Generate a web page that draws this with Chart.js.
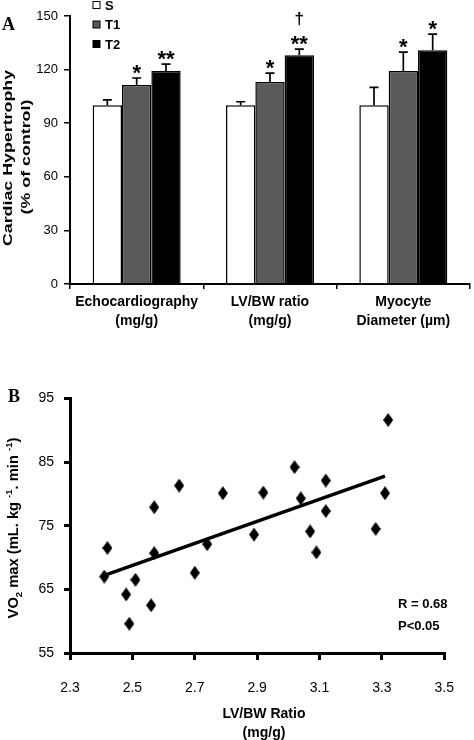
<!DOCTYPE html>
<html>
<head>
<meta charset="utf-8">
<script src="https://cdn.jsdelivr.net/npm/chart.js@4.4.0/dist/chart.umd.min.js"></script>
<style>
  body { margin: 0; background: #fff; }
  #chA { position: absolute; left: 0; top: 0; }
  #chB { position: absolute; left: 0; top: 380px; }
</style>
</head>
<body>
<canvas id="chA" width="474" height="345"></canvas>
<canvas id="chB" width="474" height="360"></canvas>
<script>
// ---- panel A : cardiac hypertrophy (% of control)
var groups = [['Echocardiography', '(mg/g)'], ['LV/BW ratio', '(mg/g)'], ['Myocyte', 'Diameter (µm)']];
var seriesNames = ['S', 'T1', 'T2'];
var sVals  = [100, 100, 100];
var t1Vals = [111.4, 113, 119.2];
var t2Vals = [119.2, 128.1, 130.9];
var sErr  = [3, 2, 10];
var t1Err = [3.9, 5, 10.6];
var t2Err = [3.9, 3.4, 9];
// significance marks, top line first
var sMarks  = [[], [], []];
var t1Marks = [['*'], ['*'], ['*']];
var t2Marks = [['**'], ['†', '**'], ['*']];
var yTicksA = [0, 30, 60, 90, 120, 150];

// ---- panel B : VO2 max vs LV/BW ratio
var lvbw = [2.41, 2.42, 2.48, 2.49, 2.51, 2.56, 2.57, 2.57, 2.65, 2.70, 2.74, 2.79, 2.89, 2.92, 3.02, 3.04, 3.07, 3.09, 3.12, 3.12, 3.28, 3.31, 3.32];
var vo2  = [67.0, 71.5, 64.2, 59.6, 66.5, 62.5, 70.7, 77.9, 81.3, 67.6, 72.1, 80.1, 73.6, 80.2, 84.2, 79.3, 74.1, 70.8, 82.1, 77.3, 74.5, 80.1, 91.6];
var fitX = [2.41, 3.31];
var fitY = [67.2, 82.8];
var xTicksB = [2.3, 2.5, 2.7, 2.9, 3.1, 3.3, 3.5];
var yTicksB = [55, 65, 75, 85, 95];
var statText = ['R = 0.68', 'P<0.05'];

Chart.defaults.font.family = 'Arial, "Liberation Sans", sans-serif';
Chart.defaults.color = '#000';

// rotated text, stretched along its length
function vText(ctx, parts, cx, cy, size, stretch) {
  ctx.save();
  ctx.translate(cx, cy);
  ctx.rotate(-Math.PI / 2);
  ctx.scale(stretch, 1);
  ctx.fillStyle = '#000';
  ctx.textBaseline = 'alphabetic';
  var total = 0;
  parts.forEach(function (p) {
    ctx.font = 'bold ' + (p[1] ? size * 0.65 : size) + 'px Arial';
    p.w = ctx.measureText(p[0]).width;
    total += p.w;
  });
  var x = -total / 2;
  parts.forEach(function (p) {
    ctx.font = 'bold ' + (p[1] ? size * 0.65 : size) + 'px Arial';
    var dy = p[1] === 'sub' ? 4 : (p[1] === 'sup' ? -6 : 0);
    ctx.fillText(p[0], x, dy);
    x += p.w;
  });
  ctx.restore();
}

var errPlugin = {
  id: 'errBars',
  afterDatasetsDraw: function (chart) {
    var ctx = chart.ctx, y = chart.scales.y;
    chart.data.datasets.forEach(function (ds, i) {
      chart.getDatasetMeta(i).data.forEach(function (bar, j) {
        var top = y.getPixelForValue(ds.data[j] + ds.err[j]);
        ctx.save();
        ctx.strokeStyle = '#000';
        ctx.lineWidth = 1.7;
        ctx.beginPath();
        ctx.moveTo(bar.x, bar.y);
        ctx.lineTo(bar.x, top);
        ctx.moveTo(bar.x - 4.5, top);
        ctx.lineTo(bar.x + 4.5, top);
        ctx.stroke();
        ctx.fillStyle = '#000';
        ctx.textAlign = 'center';
        ctx.textBaseline = 'alphabetic';
        var marks = ds.marks[j];
        var base = top + 2;
        for (var k = marks.length - 1; k >= 0; k--) {
          if (marks[k] === '†') {
            ctx.font = 'bold 17px Arial';
            ctx.fillText(marks[k], bar.x, base - 27);
          } else {
            ctx.font = 'bold 22px Arial';
            ctx.fillText(marks[k], bar.x, base);
          }
        }
        ctx.restore();
      });
    });
  },
  afterDraw: function (chart) {
    var ctx = chart.ctx;
    ctx.save();
    // legend
    chart.data.datasets.forEach(function (ds, i) {
      var cy = 5 + i * 19.5;
      ctx.fillStyle = ds.backgroundColor;
      ctx.fillRect(93, cy - 3.5, 7, 7);
      ctx.strokeStyle = '#000';
      ctx.lineWidth = 1;
      ctx.strokeRect(93, cy - 3.5, 7, 7);
      ctx.fillStyle = '#000';
      ctx.font = 'bold 13px Arial';
      ctx.textBaseline = 'middle';
      ctx.textAlign = 'left';
      ctx.fillText(ds.label, 105, cy + 1);
    });
    // panel letter
    ctx.font = 'bold 18px "Liberation Serif", "Times New Roman", serif';
    ctx.textBaseline = 'alphabetic';
    ctx.fillText('A', 2, 30);
    ctx.restore();
    vText(ctx, [['Cardiac Hypertrophy']], 12, 158, 13, 1.37);
    vText(ctx, [['(% of control)']], 30, 157, 13, 1.37);
  }
};

new Chart(document.getElementById('chA'), {
  type: 'bar',
  data: {
    labels: groups,
    datasets: [
      { label: seriesNames[0], data: sVals,  err: sErr,  marks: sMarks,  backgroundColor: '#ffffff', borderColor: '#000', borderWidth: 1.5 },
      { label: seriesNames[1], data: t1Vals, err: t1Err, marks: t1Marks, backgroundColor: '#5a5a5a', borderColor: '#000', borderWidth: 1.5 },
      { label: seriesNames[2], data: t2Vals, err: t2Err, marks: t2Marks, backgroundColor: '#000000', borderColor: '#000', borderWidth: 1.5 }
    ]
  },
  options: {
    responsive: false,
    animation: false,
    categoryPercentage: 0.66,
    barPercentage: 1.0,
    layout: { padding: { left: 0, top: 16, right: 4, bottom: 0 } },
    plugins: { legend: { display: false }, tooltip: { enabled: false } },
    scales: {
      x: {
        afterFit: function (s) { s.height = 61; },
        grid: { drawOnChartArea: false, tickLength: 5, color: '#000', lineWidth: 1.5 },
        border: { color: '#000', width: 2 },
        ticks: { font: { size: 14, weight: 'bold', lineHeight: 1.35 }, padding: 4, maxRotation: 0 }
      },
      y: {
        min: 0, max: 150,
        afterFit: function (s) { s.width = 70; },
        afterBuildTicks: function (s) { s.ticks = yTicksA.map(function (v) { return { value: v }; }); },
        grid: { drawOnChartArea: false, tickLength: 6, color: '#000', lineWidth: 1.5 },
        border: { color: '#000', width: 2 },
        ticks: { font: { size: 13 }, padding: 6 }
      }
    }
  },
  plugins: [errPlugin]
});

// diamond marker, taller than wide
var diamond = document.createElement('canvas');
diamond.width = 10; diamond.height = 14;
(function () {
  var c = diamond.getContext('2d');
  c.fillStyle = '#000';
  c.beginPath();
  c.moveTo(5, 0); c.lineTo(10, 7); c.lineTo(5, 14); c.lineTo(0, 7);
  c.closePath(); c.fill();
})();

var pts = lvbw.map(function (x, i) { return { x: x, y: vo2[i] }; });
var fit = fitX.map(function (x, i) { return { x: x, y: fitY[i] }; });

var textPluginB = {
  id: 'textB',
  afterDraw: function (chart) {
    var ctx = chart.ctx;
    ctx.save();
    ctx.fillStyle = '#000';
    ctx.font = 'bold 18px "Liberation Serif", "Times New Roman", serif';
    ctx.textBaseline = 'alphabetic';
    ctx.textAlign = 'left';
    ctx.fillText('B', 8, 22);
    ctx.font = 'bold 13px Arial';
    ctx.textBaseline = 'middle';
    ctx.fillText(statText[0], 398, 224);
    ctx.fillText(statText[1], 398, 246);
    ctx.font = 'bold 14px Arial';
    ctx.textAlign = 'center';
    ctx.fillText('LV/BW Ratio', 264, 334);
    ctx.fillText('(mg/g)', 264, 353);
    ctx.restore();
    vText(ctx, [['VO'], ['2', 'sub'], [' max (mL. kg '], ['-1', 'sup'], ['. min '], ['-1', 'sup'], [')']], 18, 148, 14, 1.05);
  }
};

new Chart(document.getElementById('chB'), {
  type: 'scatter',
  data: {
    datasets: [
      { data: pts, pointStyle: diamond, pointRadius: 7, backgroundColor: '#000', borderColor: '#000' },
      { type: 'line', data: fit, showLine: true, pointRadius: 0, borderColor: '#000', borderWidth: 3.5, fill: false }
    ]
  },
  options: {
    responsive: false,
    animation: false,
    layout: { padding: { left: 0, top: 13, right: 11, bottom: 0 } },
    plugins: { legend: { display: false }, tooltip: { enabled: false } },
    scales: {
      x: {
        type: 'linear', min: 2.3, max: 3.5,
        afterFit: function (s) { s.height = 87; },
        afterBuildTicks: function (s) { s.ticks = xTicksB.map(function (v) { return { value: v }; }); },
        grid: { drawOnChartArea: false, tickLength: 7, color: '#000', lineWidth: 3 },
        border: { color: '#000', width: 3 },
        ticks: { font: { size: 14 }, padding: 20, maxRotation: 0, callback: function (v) { return v.toFixed(1); } }
      },
      y: {
        min: 55, max: 95,
        afterFit: function (s) { s.width = 70; },
        afterBuildTicks: function (s) { s.ticks = yTicksB.map(function (v) { return { value: v }; }); },
        grid: { drawOnChartArea: false, tickLength: 6, color: '#000', lineWidth: 3 },
        border: { color: '#000', width: 3 },
        ticks: { font: { size: 14 }, padding: 10 }
      }
    }
  },
  plugins: [textPluginB]
});
</script>
</body>
</html>
